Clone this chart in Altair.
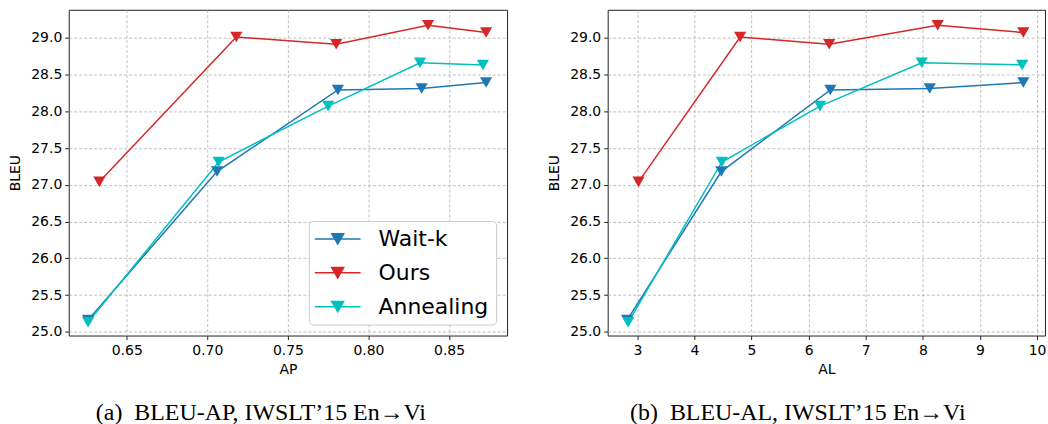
import altair as alt
import pandas as pd

methods = ["Wait-k", "Ours", "Annealing"]
colors = ["#1f77b4", "#d62728", "#00bfbf"]

ap_waitk = [0.626, 0.706, 0.781, 0.833, 0.873]
ap_ours = [0.633, 0.718, 0.780, 0.837, 0.873]
ap_anneal = [0.626, 0.707, 0.775, 0.832, 0.871]

al_waitk = [2.82, 4.47, 6.38, 8.12, 9.76]
al_ours = [3.02, 4.80, 6.36, 8.26, 9.76]
al_anneal = [2.84, 4.48, 6.20, 7.98, 9.74]

bleu_waitk = [25.16, 27.18, 28.29, 28.31, 28.39]
bleu_ours = [27.04, 29.01, 28.91, 29.17, 29.07]
bleu_anneal = [25.13, 27.31, 28.07, 28.66, 28.63]

ap_ticks = [0.65, 0.70, 0.75, 0.80, 0.85]
al_ticks = [3, 4, 5, 6, 7, 8, 9, 10]
bleu_ticks = [25.0, 25.5, 26.0, 26.5, 27.0, 27.5, 28.0, 28.5, 29.0]

rows = []
for m, ap, al, b in [
    ("Wait-k", ap_waitk, al_waitk, bleu_waitk),
    ("Ours", ap_ours, al_ours, bleu_ours),
    ("Annealing", ap_anneal, al_anneal, bleu_anneal),
]:
    for i in range(len(b)):
        rows.append({"method": m, "AP": ap[i], "AL": al[i], "BLEU": b[i], "idx": i})
df = pd.DataFrame(rows)

# line + down-triangle legend glyph (drawn wider than its unit box)
legend_path = "M-2.3,0L2.3,0M-0.6,-0.52L0.6,-0.52L0,0.52Z"

ycfg = alt.Y("BLEU:Q", title="BLEU",
             scale=alt.Scale(domain=[24.95, 29.38], nice=False, zero=False),
             axis=alt.Axis(values=bleu_ticks, format=".1f", titlePadding=8))


def panel(xfield, domain, ticks, fmt, caption, legend, dx):
    color_legend = None
    if legend:
        color_legend = alt.Legend(
            title=None, orient="none", legendX=241, legendY=212,
            symbolType=legend_path, symbolSize=400, symbolStrokeWidth=1.5,
            symbolOffset=11,
            labelFont="DejaVu Sans", labelFontSize=22, labelColor="black",
            rowPadding=12, padding=7, labelOffset=30,
            strokeColor="#cccccc", fillColor="white", cornerRadius=4,
        )
    color = alt.Color("method:N", scale=alt.Scale(domain=methods, range=colors),
                      legend=color_legend)
    x = alt.X(f"{xfield}:Q", title=xfield,
              scale=alt.Scale(domain=domain, nice=False, zero=False),
              axis=alt.Axis(values=ticks, format=fmt))
    base = alt.Chart(df)
    lines = base.mark_line(strokeWidth=1.5).encode(
        x=x, y=ycfg, color=color, order="idx:Q", detail="method:N")
    pts = base.mark_point(shape="triangle-down", filled=True, size=150, opacity=1).encode(
        x=x, y=ycfg, color=color)
    return alt.layer(lines, pts).properties(
        width=440 if legend else 439, height=327,
        title=alt.TitleParams(text=caption, orient="bottom", font="Liberation Serif",
                              fontSize=24, fontWeight="normal", color="black",
                              frame="bounds", anchor="middle", offset=25, dx=dx),
    )


left = panel("AP", [0.614, 0.886], ap_ticks, ".2f",
             "(a)\u2002BLEU-AP, IWSLT\u201915 En\u2192Vi", True, 3)
right = panel("AL", [2.48, 10.14], al_ticks, "d",
              "(b)\u2002BLEU-AL, IWSLT\u201915 En\u2192Vi", False, 1)

chart = alt.hconcat(left, right, spacing=39).resolve_legend(color="independent").properties(
    padding={"left": 8, "top": 8, "right": 1, "bottom": 0},
    background="white",
).configure_axis(
    grid=True, gridDash=[3, 2], gridColor="#b0b0b0", gridWidth=0.8,
    domain=False, tickColor="#222", tickSize=4, tickWidth=1,
    labelFont="DejaVu Sans", labelFontSize=14, labelColor="black", labelPadding=3,
    titleFont="DejaVu Sans", titleFontSize=14, titleFontWeight="normal", titleColor="black",
).configure_axisX(labelPadding=4, titlePadding=5).configure_view(
    stroke="#222", strokeWidth=1
)

chart.save("out.html", embed_options={"renderer": "svg", "actions": False})
